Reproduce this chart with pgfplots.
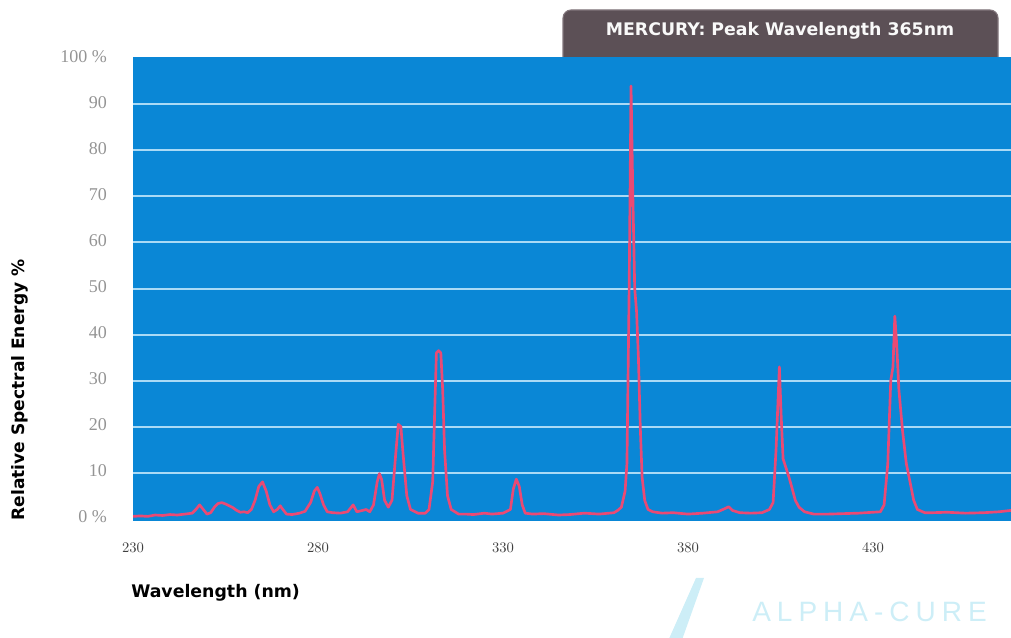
\documentclass[border=0pt]{standalone}
\usepackage{pgfplots}
\pgfplotsset{compat=1.18}
\usepackage{fontspec}
\setmainfont{DejaVu Sans}
\newfontfamily\serifft{Liberation Serif}
\newfontfamily\tickf{Liberation Sans}
\definecolor{bgblue}{RGB}{10,135,214}
\definecolor{gridc}{RGB}{170,218,246}
\definecolor{spec}{RGB}{234,74,116}
\definecolor{boxc}{RGB}{92,80,86}
\definecolor{boxb}{RGB}{130,118,124}
\definecolor{wm}{RGB}{205,238,247}
\begin{document}
\begin{tikzpicture}
\useasboundingbox (0,0) rectangle (758.25pt,478.5pt);
% title box (partly hidden behind plot area)
\fill[boxc, draw=boxb, line width=0.8pt, rounded corners=6pt] (422.25pt,426pt) rectangle (748.5pt,471pt);
\node[text=white!95!gray, font=\bfseries\fontsize{13}{13}\selectfont] at (585pt,455.25pt) {MERCURY: Peak Wavelength 365nm};
\begin{axis}[
  at={(99.75pt,87.75pt)}, anchor=south west,
  scale only axis, width=658.5pt, height=348pt,
  xmin=230, xmax=467.3, ymin=-0.5, ymax=100.3,
  axis background/.style={fill=bgblue},
  axis line style={draw=none},
  tick style={draw=none},
  major tick length=0pt,
  xtick={230,280,330,380,430},
  xticklabel style={font=\tickf\fontsize{11}{11}\selectfont, text=black!75, yshift=-13pt},
  ytick={10,20,...,90},
  yticklabels={10,20,30,40,50,60,70,80,90},
  yticklabel style={font=\serifft\fontsize{13.5}{13.5}\selectfont, text=black!42, xshift=-16pt, yshift=1.5pt},
  extra y ticks={0,100},
  extra y tick labels={0~\%,100~\%},
  extra y tick style={grid=none},
  ymajorgrids,
  grid style={color=gridc, line width=1.5pt},
  clip=true,
]
\addplot[color=spec, line width=2pt, line join=round] coordinates {
(230,0.5)(232,0.6)(234,0.5)(236,0.8)(238,0.7)(240,0.9)(242,0.8)(244,1.0)(246,1.2)
(247,2.0)(248,3.0)(249,2.0)(250,1.0)(251,1.3)(252,2.5)(253,3.3)(254,3.5)(255,3.2)
(256,2.8)(257,2.4)(258,1.8)(259,1.4)(260,1.5)(261,1.3)(262,2.0)(263,4.0)(264,7.0)
(265,8.0)(266,6.0)(267,3.0)(268,1.5)(269,2.0)(269.8,2.8)(270.5,2.0)(271.5,1.0)
(273,0.9)(275,1.2)(276.5,1.6)(278,3.5)(279,6.0)(279.8,6.8)(280.5,5.5)(281.5,3.0)
(282.5,1.5)(284,1.3)(286,1.2)(288,1.5)(289.5,3.0)(290.5,1.5)(292,1.8)(293,2.0)
(294,1.5)(295,3.0)(296,8.0)(296.6,9.8)(297.2,8.5)(298,4.0)(299,2.5)(300,4.0)
(301,14)(301.7,20.5)(302.4,20.0)(303,14)(304,5)(305,2)(307,1.2)(309,1.2)(310,2.0)
(311,8)(311.6,25)(312.0,36)(312.6,36.5)(313.2,36)(313.7,28)(314.2,15)(315,5)
(316,2.0)(318,1.0)(320,1.0)(322,0.9)(325,1.2)(327,1.0)(330,1.2)(332,2.0)
(332.8,6.5)(333.6,8.6)(334.4,7)(335.2,3)(336,1.2)(338,1.0)(341,1.1)(345,0.8)
(348,0.9)(352,1.2)(356,1.0)(360,1.3)(361,1.8)(362,2.5)(363,6)(363.5,12)
(364.1,50)(364.6,94)(365.1,70)(365.6,50)(366.1,45)(366.6,35)(367.1,20)(367.6,9)
(368.3,4)(369.2,2)(370.5,1.5)(373,1.2)(376,1.3)(380,1.0)(384,1.2)(388,1.5)
(390,2.2)(391,2.6)(392,1.8)(394,1.3)(397,1.2)(400,1.3)(402,2.0)(403,3.5)
(403.8,15)(404.7,33)(405.2,22)(405.7,13)(406.5,11)(407.3,9)(408,7)(409,4)
(410,2.5)(411.5,1.5)(414,1.0)(418,1.0)(422,1.1)(426,1.2)(430,1.4)(432,1.5)
(433,3)(434,12)(434.8,30)(435.4,33)(435.9,44)(436.4,38)(437,28)(438,19)
(439,12)(440,8)(441,4)(442,2)(444,1.3)(446,1.3)(450,1.4)(455,1.2)(460,1.3)
(464,1.5)(467.3,1.8)
};
\end{axis}
\node[rotate=90, font=\bfseries\fontsize{12.8}{12.8}\selectfont] at (15pt,186pt) {Relative Spectral Energy \%};
\node[anchor=west, inner sep=0pt, font=\bfseries\fontsize{13}{13}\selectfont] at (98.25pt,33.75pt) {Wavelength (nm)};
\node[anchor=west, inner sep=0pt, text=wm, font=\tickf\fontsize{21}{21}\selectfont] at (564pt,19.5pt) {A\kern4.5pt L\kern4.5pt P\kern4.5pt H\kern4.5pt A\kern4.5pt -\kern4.5pt C\kern4.5pt U\kern4.5pt R\kern4.5pt E};
\fill[wm] (502pt,0pt) -- (522pt,45pt) -- (528pt,45pt) -- (512pt,0pt) -- cycle;
\end{tikzpicture}
\end{document}
